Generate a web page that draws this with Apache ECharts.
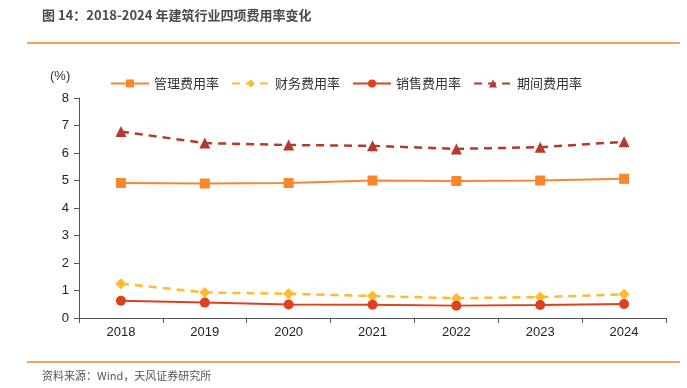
<!DOCTYPE html>
<html><head><meta charset="utf-8">
<script src="https://cdn.jsdelivr.net/npm/echarts@6/dist/echarts.min.js"></script>
<style>html,body{margin:0;padding:0;background:#fff}#c{width:687px;height:388px}</style>
</head><body><div id="c"></div>
<script>
var years = ['2018','2019','2020','2021','2022','2023','2024'];
var guanli = [4.91, 4.89, 4.91, 5.00, 4.98, 5.00, 5.06];
var caiwu = [1.25, 0.93, 0.88, 0.80, 0.72, 0.76, 0.86];
var xiaoshou = [0.63, 0.56, 0.49, 0.48, 0.45, 0.47, 0.51];
var qijian = [6.78, 6.36, 6.29, 6.26, 6.15, 6.21, 6.41];
var yTicks = [0,1,2,3,4,5,6,7,8];

var font = '"Noto Sans CJK SC", "Noto Sans", sans-serif';
var numFont = '"Liberation Sans", Arial, sans-serif';
var chart = echarts.init(document.getElementById('c'));
chart.setOption({
  animation: false,
  textStyle: {fontFamily: font},
  grid: {left: 79, right: 21, top: 98, bottom: 70},
  graphic: [
    {type: 'text', left: 42, top: 9, style: {text: '图 14：2018-2024 年建筑行业四项费用率变化', font: 'bold 13px ' + font, fill: '#4a4a4a'}},
    {type: 'rect', shape: {x: 27, y: 42, width: 653, height: 2}, style: {fill: '#F5A35B'}},
    {type: 'rect', shape: {x: 27, y: 361, width: 653, height: 2}, style: {fill: '#F5A35B'}},
    {type: 'text', left: 42, top: 370, style: {text: '资料来源：Wind，天风证券研究所', font: '11px ' + font, fill: '#555'}},
    {type: 'text', left: 50, top: 70, style: {text: '(%)', font: '13px ' + numFont, fill: '#333'}}
  ],
  legend: {
    top: 72, left: 105, itemWidth: 38, itemHeight: 10, itemGap: 12,
    textStyle: {fontSize: 13, color: '#333', fontFamily: font},
    data: ['管理费用率','财务费用率','销售费用率','期间费用率']
  },
  xAxis: {
    type: 'category', data: years, boundaryGap: true,
    axisLine: {lineStyle: {color: '#555'}},
    axisTick: {show: true, length: 5, lineStyle: {color: '#555'}},
    axisLabel: {color: '#222', fontSize: 13, margin: 8, fontFamily: numFont}
  },
  yAxis: {
    type: 'value', min: 0, max: 8, interval: 1,
    splitLine: {show: false},
    axisLine: {show: true, lineStyle: {color: '#555'}},
    axisTick: {show: true, length: 5, lineStyle: {color: '#555'}},
    axisLabel: {color: '#222', fontSize: 13, margin: 10, fontFamily: numFont,
      formatter: function(v){ return yTicks.indexOf(v) >= 0 ? String(v) : ''; }}
  },
  series: [
    {name: '管理费用率', type: 'line', data: guanli, symbol: 'rect', symbolSize: 10,
     itemStyle: {color: '#F7872A'}, lineStyle: {color: '#F7872A', width: 2}},
    {name: '财务费用率', type: 'line', data: caiwu, symbol: 'diamond', symbolSize: 11,
     itemStyle: {color: '#FFBB2B'}, lineStyle: {color: '#FFBB2B', width: 2.5, type: [8, 6]}},
    {name: '销售费用率', type: 'line', data: xiaoshou, symbol: 'circle', symbolSize: 10,
     itemStyle: {color: '#E0401F'}, lineStyle: {color: '#E0401F', width: 2}},
    {name: '期间费用率', type: 'line', data: qijian, symbol: 'triangle', symbolSize: 11,
     itemStyle: {color: '#B43A2B'}, lineStyle: {color: '#B43A2B', width: 2.5, type: [8, 6]}}
  ]
});
</script></body></html>
